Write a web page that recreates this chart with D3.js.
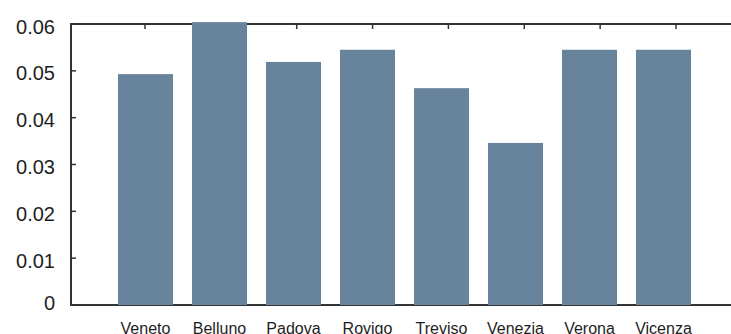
<!DOCTYPE html>
<html>
<head>
<meta charset="utf-8">
<script src="https://cdn.jsdelivr.net/npm/d3@7"></script>
<style>
  html, body { margin: 0; padding: 0; background: #fff; overflow: hidden; }
  svg { display: block; }
</style>
</head>
<body>
<svg id="chart" width="731" height="334"></svg>
<script>
const categories = ["Veneto", "Belluno", "Padova", "Rovigo", "Treviso", "Venezia", "Verona", "Vicenza"];
const values = [0.0493, 0.0604, 0.0519, 0.0545, 0.0463, 0.0346, 0.0545, 0.0545];
const yTicks = [0, 0.01, 0.02, 0.03, 0.04, 0.05, 0.06];
const yTickLabels = ["0", "0.01", "0.02", "0.03", "0.04", "0.05", "0.06"];

(function () {
const svg = d3.select("#chart");
const mLeft = 71, mRight = 731, mTop = 24, mBottom = 305;
const barColor = "#68849c";
const axisColor = "#333333";
const textColor = "#1e1e1e";
const font = "'Liberation Sans', Arial, Helvetica, sans-serif";

const y = d3.scaleLinear().domain([0, 0.06]).range([mBottom, mTop]);
const x = d3.scaleBand().domain(categories).range([118, 691]).paddingInner(0.2568).paddingOuter(0);
const xTop = d3.scalePoint().domain(categories).range([145, 676]);

// bottom and top frame lines
svg.append("line").attr("x1", mLeft).attr("x2", mRight).attr("y1", mBottom).attr("y2", mBottom)
  .attr("stroke", axisColor).attr("stroke-width", 2);
svg.append("line").attr("x1", mLeft).attr("x2", mRight).attr("y1", mTop).attr("y2", mTop)
  .attr("stroke", axisColor).attr("stroke-width", 2);

// top ticks (pointing down)
svg.append("g").selectAll("line").data(categories).join("line")
  .attr("x1", d => xTop(d)).attr("x2", d => xTop(d))
  .attr("y1", mTop).attr("y2", mTop + 5)
  .attr("stroke", axisColor).attr("stroke-width", 1.5);

// left axis
svg.append("line").attr("x1", mLeft).attr("x2", mLeft).attr("y1", mTop - 1).attr("y2", mBottom + 1)
  .attr("stroke", axisColor).attr("stroke-width", 2);
const yg = svg.append("g");
yg.selectAll("line").data(yTicks).join("line")
  .attr("x1", mLeft).attr("x2", mLeft + 5)
  .attr("y1", d => y(d)).attr("y2", d => y(d))
  .attr("stroke", axisColor).attr("stroke-width", 1.5);
yg.selectAll("text").data(yTicks).join("text")
  .attr("x", 55)
  .attr("y", d => y(d) + (d === 0 ? 5 : 9.5))
  .attr("text-anchor", "end")
  .attr("font-family", font)
  .attr("font-size", 20)
  .attr("fill", textColor)
  .text((d, i) => yTickLabels[i]);

// bars
svg.append("g").selectAll("rect").data(values).join("rect")
  .attr("x", (d, i) => x(categories[i]))
  .attr("width", x.bandwidth())
  .attr("y", d => y(d))
  .attr("height", d => y(0) - y(d))
  .attr("fill", barColor);

// x labels
svg.append("g").selectAll("text").data(categories).join("text")
  .attr("x", d => x(d) + x.bandwidth() / 2)
  .attr("y", 334)
  .attr("text-anchor", "middle")
  .attr("font-family", font)
  .attr("font-size", 16)
  .attr("fill", textColor)
  .text(d => d);
})();
</script>
</body>
</html>
